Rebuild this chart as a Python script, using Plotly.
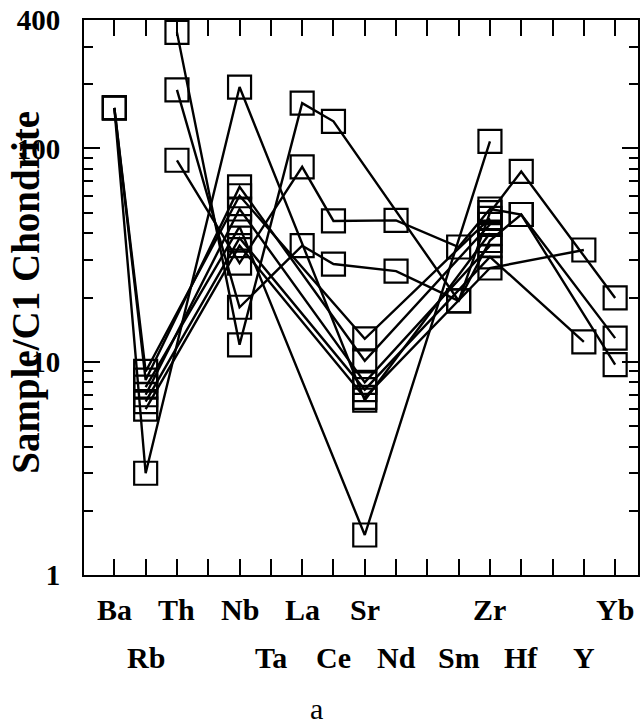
import plotly.graph_objects as go
import math

# Elements (positions 1..17); K, P, Ti have no label
elements = ["Ba", "Rb", "Th", "K", "Nb", "Ta", "La", "Ce", "Sr", "Nd", "P", "Sm", "Zr", "Hf", "Ti", "Y", "Yb"]
tick_labels = ["Ba", "Rb", "Th", "", "Nb", "Ta", "La", "Ce", "Sr", "Nd", "", "Sm", "Zr", "Hf", "", "Y", "Yb"]

N = None
#             Ba   Rb   Th   K  Nb   Ta  La   Ce    Sr    Nd    P  Sm    Zr    Hf  Ti  Y     Yb
sample_1  = [155, 3.0,  N,   N, 194, N,  N,   N,    6.6,  N,    N, N,    40,   N,  N,  N,    N]
sample_2  = [155, 9.0,  N,   N, 60,  N,  N,   N,    12.8, N,    N, N,    47,   N,  N,  N,    N]
sample_3  = [155, 8.2,  N,   N, 66,  N,  N,   N,    10.1, N,    N, N,    44,   N,  N,  N,    N]
sample_4  = [N,   7.6,  N,   N, 43,  N,  N,   N,    1.54, N,    N, N,    108,  N,  N,  N,    N]
sample_5  = [N,   7.0,  N,   N, 52,  N,  N,   N,    8.0,  N,    N, N,    35,   N,  N,  N,    N]
sample_6  = [N,   6.5,  N,   N, 38,  N,  N,   N,    7.4,  N,    N, N,    31,   N,  N,  12.4, N]
sample_7  = [N,   6.0,  N,   N, 35,  N,  N,   N,    6.8,  N,    N, N,    27.5, N,  N,  33.4, N]
sample_8  = [N,   N,    350, N, 12,  N,  163, 134,  N,    N,    N, 19.3, 50,   78, N,  N,    19.9]
sample_9  = [N,   N,    88,  N, 29,  N,  82,  45.7, N,    46,   N, 34.5, 52,   49, N,  N,    12.9]
sample_10 = [N,   N,    188, N, 18,  N,  35,  28.7, N,    26.6, N, 19.3, 37,   49, N,  N,    9.7]

samples = [sample_1, sample_2, sample_3, sample_4, sample_5, sample_6, sample_7,
           sample_8, sample_9, sample_10]

y_major = [1, 10, 100, 400]
y_major_text = ["1", "10", "100", "400"]
y_minor = [2, 3, 4, 5, 6, 7, 8, 9, 20, 30, 40, 50, 60, 70, 80, 90, 200, 300]

y_title = "Sample/C1 Chondrite"
panel_label = "a"

SERIF = "Liberation Serif, Times New Roman, serif"

xs = list(range(1, len(elements) + 1))

fig = go.Figure()
for s in samples:
    fig.add_trace(go.Scatter(
        x=xs, y=s, mode="lines+markers", connectgaps=True,
        line=dict(color="black", width=2.4),
        marker=dict(symbol="square-open", size=23, color="black",
                    line=dict(color="black", width=2.2)),
        showlegend=False, hoverinfo="skip", cliponaxis=False))

# invisible trace on minor-tick axis so it renders
fig.add_trace(go.Scatter(x=[1], y=[1], yaxis="y2", mode="markers",
                         marker=dict(opacity=0), showlegend=False, hoverinfo="skip"))

xr = [0.03, 17.73]
yr = [0, math.log10(400)]

fig.update_layout(
    width=641, height=727,
    margin=dict(l=84, r=3, t=20, b=152, autoexpand=False),
    paper_bgcolor="white", plot_bgcolor="white",
    xaxis=dict(range=xr, tickvals=xs, ticktext=[""] * len(xs), showticklabels=False,
               ticks="inside", ticklen=16, tickwidth=2, tickcolor="black",
               showline=True, linewidth=2, linecolor="black", mirror="ticks",
               showgrid=False, zeroline=False, automargin=False),
    yaxis=dict(type="log", range=yr, tickvals=y_major, ticktext=y_major_text,
               ticks="inside", ticklen=16, tickwidth=2, tickcolor="black",
               showline=True, linewidth=2, linecolor="black", mirror="ticks",
               showgrid=False, zeroline=False, ticklabelstandoff=16, automargin=False,
               tickfont=dict(family=SERIF, size=29, color="black", weight="bold")),
    yaxis2=dict(type="log", range=yr, overlaying="y", side="left",
                tickvals=y_minor, showticklabels=False, automargin=False,
                ticks="inside", ticklen=9, tickwidth=2, tickcolor="black",
                showline=True, linewidth=2, linecolor="black", mirror="ticks",
                showgrid=False, zeroline=False),
)

# element labels in two staggered rows
for i, lab in enumerate(tick_labels):
    if not lab:
        continue
    row_y = -0.063 if i % 2 == 0 else -0.148
    fig.add_annotation(x=xs[i], y=row_y, xref="x", yref="paper", text=lab,
                       showarrow=False, xanchor="center", yanchor="middle",
                       font=dict(family=SERIF, size=30, color="black", weight="bold"))

fig.add_annotation(x=-0.105, y=0.51, xref="paper", yref="paper", text=y_title,
                   textangle=-90, showarrow=False, xanchor="center", yanchor="middle",
                   font=dict(family=SERIF, size=39, color="black", weight="bold"))

fig.add_annotation(x=0.42, y=-0.24, xref="paper", yref="paper", text=panel_label,
                   showarrow=False, xanchor="center", yanchor="middle",
                   font=dict(family=SERIF, size=30, color="black"))

fig.write_html("out.html", config={"displayModeBar": False, "staticPlot": True})

# remove default page margins so the 641x727 figure fills the window exactly
with open("out.html", "r", encoding="utf-8") as f:
    html = f.read()
html = html.replace("<head>", "<head><style>html,body{margin:0;padding:0;overflow:hidden;}</style>", 1)
with open("out.html", "w", encoding="utf-8") as f:
    f.write(html)
